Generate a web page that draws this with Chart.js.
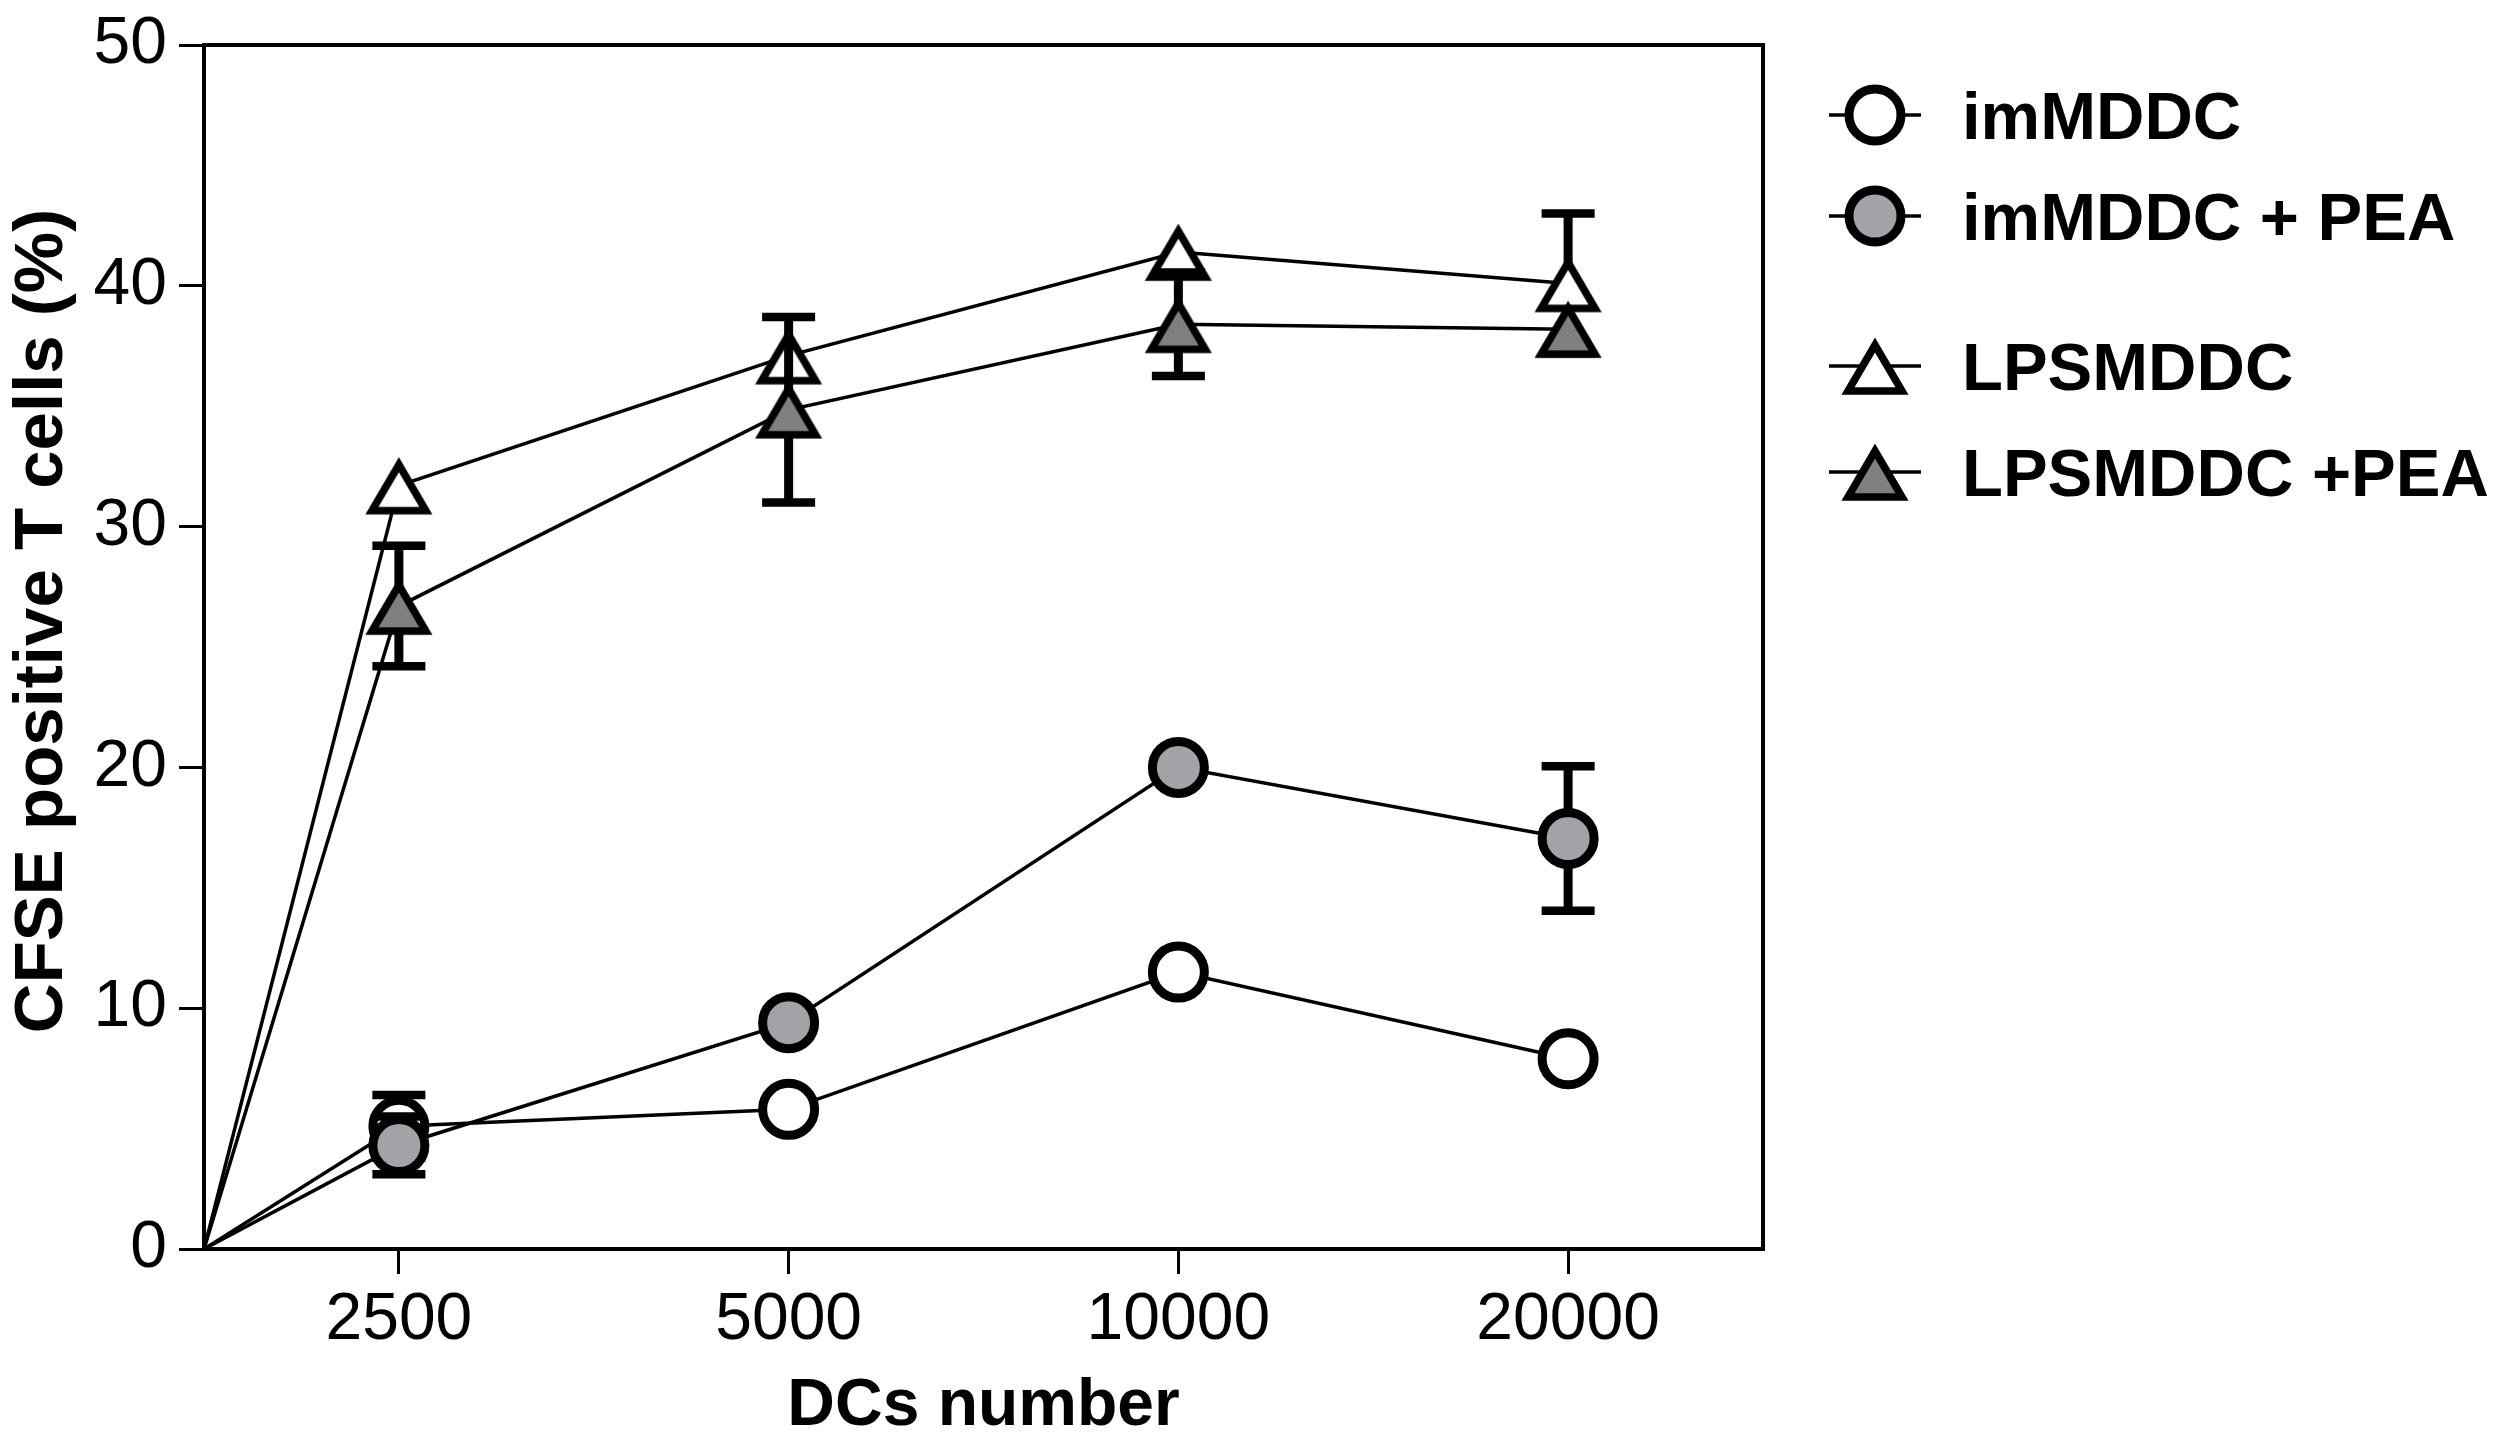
<!DOCTYPE html>
<html>
<head>
<meta charset="utf-8">
<title>CFSE positive T cells</title>
<script src="https://cdn.jsdelivr.net/npm/chart.js@4.4.1/dist/chart.umd.min.js"></script>
<style>
    html, body { margin: 0; padding: 0; background: #fff; }
    #wrap { width: 2500px; height: 1452px; position: relative; }
</style>
</head>
<body>
<div id="wrap"><canvas id="cfseChart"></canvas></div>
<script>
/* ---------- data ---------- */

const categories = ["2500", "5000", "10000", "20000"];
const yTicks = [0, 10, 20, 30, 40, 50];

const imMDDC       = [5.1, 5.8, 11.5, 7.9];
const imMDDCErr    = [1.3, 0, 0, 0];

const imMDDCPEA    = [4.3, 9.4, 20.0, 17.05];
const imMDDCPEAErr = [1.2, 0, 0, 3.0];

const lpsMDDC      = [31.7, 37.1, 41.4, 40.1];
const lpsMDDCErr   = [0, 0, 0, 2.9];

const lpsMDDCPEA    = [26.7, 34.85, 38.4, 38.2];
const lpsMDDCPEAErr = [2.5, 3.85, 2.15, 0];

const seriesNames = ["imMDDC", "imMDDC + PEA", "LPSMDDC", "LPSMDDC +PEA"];
const yTitle = "CFSE positive T cells (%)";
const xTitle = "DCs number";

const FONT = "'Liberation Sans', Arial, sans-serif";

/* ---------- marker images ---------- */

function triangleMarker(fill) {
    const c = document.createElement("canvas");
    c.width = 80;
    c.height = 80;
    const g = c.getContext("2d");
    g.beginPath();
    g.moveTo(40, 19);
    g.lineTo(67, 65);
    g.lineTo(13, 65);
    g.closePath();
    g.fillStyle = fill;
    g.fill();
    g.lineWidth = 7.5;
    g.lineJoin = "miter";
    g.strokeStyle = "#000";
    g.stroke();
    return c;
}

const triOpen = triangleMarker("#ffffff");
const triGrey = triangleMarker("#808080");

/* every line starts at the lower-left corner of the frame */
function toPoints(values) {
    const pts = [{ x: 0.5, y: 0 }];
    values.forEach((v, i) => pts.push({ x: i + 1, y: v }));
    return pts;
}

const errors = [imMDDCErr, imMDDCPEAErr, lpsMDDCErr, lpsMDDCPEAErr];

/* ---------- plugins ---------- */

const errorBars = {
    id: "errorBars",
    beforeDatasetDraw(chart, args) {
        const err = errors[args.index];
        const ds = chart.data.datasets[args.index];
        const xs = chart.scales.x;
        const ys = chart.scales.y;
        const ctx = chart.ctx;
        ctx.save();
        ctx.strokeStyle = "#000";
        ds.data.forEach((p, i) => {
            if (i === 0) return;
            const e = err[i - 1];
            if (!e) return;
            const x = xs.getPixelForValue(p.x);
            const yT = ys.getPixelForValue(p.y + e);
            const yB = ys.getPixelForValue(p.y - e);
            ctx.lineWidth = 9;
            ctx.beginPath();
            ctx.moveTo(x, yT);
            ctx.lineTo(x, yB);
            ctx.stroke();
            ctx.lineWidth = 8.5;
            ctx.beginPath();
            ctx.moveTo(x - 26.5, yT);
            ctx.lineTo(x + 26.5, yT);
            ctx.moveTo(x - 26.5, yB);
            ctx.lineTo(x + 26.5, yB);
            ctx.stroke();
        });
        ctx.restore();
    }
};

const frameAndLegend = {
    id: "frameAndLegend",
    afterDraw(chart) {
        const ctx = chart.ctx;
        const a = chart.chartArea;
        ctx.save();

        // top and right edges of the box
        ctx.strokeStyle = "#000";
        ctx.lineWidth = 4;
        ctx.beginPath();
        ctx.moveTo(a.left, a.top);
        ctx.lineTo(a.right, a.top);
        ctx.lineTo(a.right, a.bottom);
        ctx.stroke();

        // y axis title, sitting a little above the middle as in the figure
        ctx.save();
        ctx.translate(43, (a.top + a.bottom) / 2 - 26);
        ctx.rotate(-Math.PI / 2);
        ctx.fillStyle = "#000";
        ctx.font = "bold 69px " + FONT;
        ctx.textAlign = "center";
        ctx.textBaseline = "middle";
        ctx.fillText(yTitle, 0, 0);
        ctx.restore();

        // legend
        const rows = [115, 216, 366, 472];
        const mx = a.right + 112;
        chart.data.datasets.forEach((ds, i) => {
            const y = rows[i];
            ctx.lineWidth = 3.5;
            ctx.strokeStyle = "#000";
            ctx.beginPath();
            ctx.moveTo(mx - 46, y);
            ctx.lineTo(mx + 46, y);
            ctx.stroke();

            if (ds.pointStyle === "circle") {
                ctx.beginPath();
                ctx.arc(mx, y, ds.pointRadius[1], 0, Math.PI * 2);
                ctx.fillStyle = ds.pointBackgroundColor;
                ctx.fill();
                ctx.lineWidth = ds.pointBorderWidth;
                ctx.stroke();
            } else {
                const img = ds.pointStyle;
                ctx.drawImage(img, mx - img.width / 2, y - img.height / 2);
            }

            ctx.fillStyle = "#000";
            ctx.font = "bold 67px " + FONT;
            ctx.textAlign = "left";
            ctx.textBaseline = "alphabetic";
            ctx.fillText(seriesNames[i], mx + 87, y + 24);
        });

        ctx.restore();
    }
};

/* ---------- chart ---------- */

function lineSet(label, values, style, fill, order) {
    return {
        label: label,
        data: toPoints(values),
        order: order,
        borderColor: "#000",
        borderWidth: 3.5,
        tension: 0,
        pointStyle: style,
        pointRadius: [0].concat(values.map(() => 26)),
        pointBackgroundColor: fill,
        pointBorderColor: "#000",
        pointBorderWidth: 9,
        pointHoverRadius: 0
    };
}

const ctxEl = document.getElementById("cfseChart");

new Chart(ctxEl, {
    type: "line",
    data: {
        datasets: [
            lineSet(seriesNames[0], imMDDC, "circle", "#ffffff", 3),
            lineSet(seriesNames[1], imMDDCPEA, "circle", "#a3a3a7", 2),
            lineSet(seriesNames[2], lpsMDDC, triOpen, "#ffffff", 1),
            lineSet(seriesNames[3], lpsMDDCPEA, triGrey, "#808080", 0)
        ]
    },
    options: {
        responsive: true,
        maintainAspectRatio: false,
        animation: false,
        devicePixelRatio: 1,
        layout: {
            padding: { top: 35, right: 737, left: 0, bottom: 0 }
        },
        plugins: {
            legend: { display: false },
            tooltip: { enabled: false }
        },
        scales: {
            x: {
                type: "linear",
                min: 0.5,
                max: 4.5,
                afterBuildTicks: scale => {
                    scale.ticks = categories.map((c, i) => ({ value: i + 1 }));
                },
                afterFit: scale => { scale.height = 203; },
                ticks: {
                    callback: v => categories[v - 1],
                    color: "#000",
                    padding: 14,
                    maxRotation: 0,
                    font: { family: FONT, size: 66, lineHeight: 1 }
                },
                grid: {
                    display: true,
                    drawOnChartArea: false,
                    drawTicks: true,
                    tickLength: 25,
                    lineWidth: 3,
                    color: "#000"
                },
                border: { display: true, width: 4, color: "#000" },
                title: {
                    display: true,
                    text: xTitle,
                    color: "#000",
                    padding: { top: 0, bottom: 6 },
                    font: { family: FONT, size: 66, weight: "bold", lineHeight: 1.2 }
                }
            },
            y: {
                min: yTicks[0],
                max: yTicks[yTicks.length - 1],
                afterBuildTicks: scale => {
                    scale.ticks = yTicks.map(v => ({ value: v }));
                },
                afterFit: scale => { scale.width = 204; },
                ticks: {
                    color: "#000",
                    padding: 12,
                    font: { family: FONT, size: 66, lineHeight: 1 }
                },
                grid: {
                    display: true,
                    drawOnChartArea: false,
                    drawTicks: true,
                    tickLength: 25,
                    lineWidth: 3,
                    color: "#000"
                },
                border: { display: true, width: 4, color: "#000" }
            }
        }
    },
    plugins: [errorBars, frameAndLegend]
});
</script>
</body>
</html>
